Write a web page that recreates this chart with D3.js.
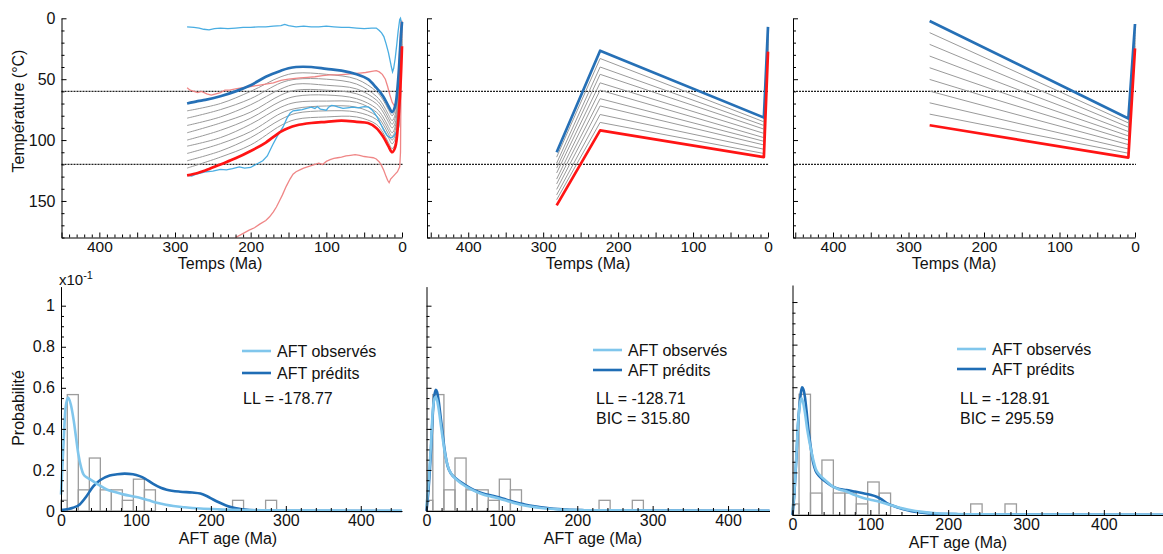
<!DOCTYPE html>
<html><head><meta charset="utf-8">
<script src="https://cdn.jsdelivr.net/npm/d3@7"></script>
<style>body{margin:0;background:#fff}svg{display:block}</style>
</head><body><svg id="c" width="1163" height="554"></svg>
<script>
// ---------------- DATA ----------------
// Panel 1 (top-left): thick envelope paths (time Ma -> temperature °C)
const p1Times = [284, 270, 260, 240, 220, 200, 180, 160, 150, 140, 120, 100, 80, 60, 45, 34, 25, 18, 13, 9, 5, 2, 0];
const p1Blue  = [70, 68, 67, 64, 60, 55, 48, 43, 41, 40, 40, 41.5, 43, 46, 50, 57, 64, 72, 77, 72, 50, 20, 3];
const p1Red   = [129, 127, 125, 120, 115, 109, 102, 93, 90, 88, 86, 85, 84, 85, 86, 90, 97, 105, 110, 106, 85, 55, 23];
const p1GreyTimes = [284, 240, 200, 160, 140, 100, 60, 34, 25, 18, 13, 9, 5, 2, 0];
const p1Greys = [
  [76, 70, 60, 48, 45, 46, 50, 60, 67, 75, 80, 75, 54, 24, 5],
  [82, 75, 66, 53, 50, 50, 54, 64, 71, 79, 84, 79, 57, 27, 7],
  [88, 81, 71, 58, 54, 55, 58, 67, 74, 82, 87, 82, 61, 31, 9],
  [94, 86, 77, 63, 59, 59, 62, 70, 77, 85, 90, 86, 64, 34, 11],
  [100, 92, 82, 68, 64, 63, 66, 74, 81, 89, 94, 89, 68, 38, 13],
  [105, 98, 87, 73, 69, 68, 69, 77, 84, 92, 97, 92, 71, 41, 15],
  [111, 103, 93, 78, 74, 72, 73, 80, 87, 95, 100, 96, 75, 45, 17],
  [117, 109, 98, 83, 78, 76, 77, 83, 90, 98, 103, 99, 78, 48, 19],
  [123, 114, 104, 88, 83, 81, 81, 87, 94, 102, 107, 103, 82, 52, 21]
];
// Panel 1 thin bounds [Ma, °C]
const p1CyanUpper = [[284,7],[275,7.5],[268,8],[262,9],[255,9.5],[248,8.5],[240,8],[230,8.5],[220,8],[210,7.5],[200,7.5],[190,7],[180,7],[170,6.5],[160,6],[155,5],[150,6],[140,7],[130,6.5],[120,7],[110,7],[100,6.5],[90,7],[80,7.5],[70,7.5],[60,8],[50,8.5],[40,8],[34,8],[30,10],[27,12],[24,15],[21,21],[18,28],[16,34],[14,40],[12.5,44],[11,41],[9,33],[7,22],[5,10],[3,1],[2,0],[1,3],[0,4]];
const p1CyanLower = [[284,129],[278,129.5],[272,128],[265,127],[259,126],[250,125.5],[240,124],[232,124.5],[224,123.5],[215,122],[208,123],[200,122.5],[196,121],[190,119],[184,117],[178,113],[171,104],[165,97],[160,92],[157,89],[152,82],[148,78],[144,76],[138,75.5],[132,75],[126,74],[120,73],[115,74],[112,72.5],[108,74.5],[104,75],[100,75.5],[97,73],[93,71.5],[89,72],[84,73],[78,74],[72,73.5],[65,73],[58,73.5],[50,72.5],[44,73],[40,75],[36,78],[32,82],[28,87],[24,92],[20,96],[16,98],[13,98],[10,96],[7,93],[5,91],[4,88],[3,70],[2,30],[1.5,8]];
const p1PinkUpper = [[284,57],[280,59],[275,60],[270,61],[265,60],[258,62],[252,63],[246,62],[240,61],[234,59],[228,59],[220,58],[210,57],[200,56],[190,55],[180,54],[170,53],[160,51],[150,50],[144,49.5],[135,49],[125,48.5],[115,48],[105,47],[95,46.5],[85,46.5],[75,46],[65,45.5],[56,45],[48,44.5],[40,43.5],[34,43],[30,44],[26,46],[22,50],[19,56],[16,63],[13,69],[10,72],[8,70],[6,60],[4,40],[3,25],[2,10],[1,2]];
const p1PinkLower = [[220,180],[214,178],[208,176],[202,174],[195,172],[188,169],[180,166],[175,163],[170,159],[166,155],[162,150],[158,145],[153,138],[148,132],[144,128],[140,126],[135,124.5],[130,123],[125,122],[120,121],[115,120],[110,119],[105,120],[100,117.5],[95,116],[90,115],[85,114.5],[80,114],[74,113],[68,112.5],[62,112],[56,112.5],[50,113.5],[44,114],[38,114.5],[34,115.5],[30,118],[27,121],[24,125],[21,130],[19,133],[17,135],[15,132],[12,130],[9,128],[6,126],[3,122],[2,110],[1.5,70],[1,26],[0,2]];

// Panel 2 (top-middle)
const p2Times = [282, 224, 5.5, 0];
const p2Blue  = [110, 26.6, 81.5, 7];
const p2Red   = [153.6, 92, 114, 27.4];
const p2Greys = [
  [114, 33, 85, 9], [119, 40, 88, 11], [123, 46, 91, 13], [127, 53, 94.5, 15], [132, 59, 98, 17],
  [136, 66, 101, 19], [140.5, 72, 104, 21], [145, 79, 107.5, 23], [149, 85.5, 111, 25]
];
// Panel 3 (top-right)
const p3Times = [272, 8.8, 0];
const p3Blue  = [2.2, 82.3, 4.7];
const p3Red   = [87.8, 114.4, 24.7];
const p3Greys = [
  [11.8, 85.9, 7], [21.4, 89.4, 9], [31, 93, 11.4], [40.6, 96.6, 13.6],
  [50.2, 100, 16], [59.8, 103.7, 18], [69.4, 107.3, 20], [78.7, 110.8, 22.5]
];

// Histogram of observed AFT ages (x10^-1)
const binLo    = [0, 8.4, 23.1, 37.8, 52.5, 67.2, 81.9, 96.6, 111.3, 228.9, 273.0];
const binHi    = [8.4, 23.1, 37.8, 52.5, 67.2, 81.9, 96.6, 111.3, 126.0, 243.6, 287.7];
const histVals = [0.052, 0.567, 0.103, 0.258, 0.103, 0.103, 0.052, 0.155, 0.103, 0.052, 0.052];

// KDE curves [age Ma, probability x10^-1]
const p4Obs  = [[0,0.08],[3,0.3],[6,0.5],[9.5,0.552],[13,0.52],[17,0.44],[20,0.36],[23,0.28],[27,0.21],[30,0.178],[35,0.162],[39,0.154],[50,0.128],[61,0.105],[72,0.092],[83,0.081],[95,0.072],[105,0.065],[117,0.052],[128,0.04],[140,0.03],[150,0.024],[165,0.018],[186,0.012],[210,0.008],[240,0.005],[280,0.003],[340,0.002],[400,0.001],[455,0.001]];
const p4Pred = [[0,0.005],[10,0.01],[16,0.016],[25,0.032],[34,0.072],[43,0.12],[52,0.15],[65,0.173],[75,0.179],[85,0.182],[96,0.179],[105,0.17],[112,0.158],[123,0.132],[133,0.113],[141,0.104],[159,0.094],[175,0.09],[186,0.085],[195,0.072],[203,0.056],[212,0.04],[221,0.026],[232,0.014],[243,0.008],[260,0.003],[290,0.001],[455,0]];
const p5Obs  = [[0,0.02],[3,0.15],[6,0.33],[8,0.47],[10,0.54],[12,0.555],[14,0.54],[16,0.5],[19,0.42],[22,0.34],[25,0.27],[29,0.21],[34,0.175],[40,0.152],[52,0.12],[64,0.097],[75,0.08],[86,0.07],[97,0.06],[108,0.048],[119,0.036],[130,0.027],[141,0.02],[152,0.015],[163,0.011],[186,0.006],[210,0.004],[250,0.003],[300,0.002],[455,0.001]];
const p5Pred = [[0,0],[3,0.12],[6,0.3],[8,0.45],[10,0.55],[12.4,0.59],[14,0.58],[16,0.54],[19,0.45],[21,0.39],[24,0.3],[28,0.22],[33,0.18],[39,0.158],[52,0.125],[64,0.1],[75,0.085],[86,0.075],[97,0.066],[108,0.053],[119,0.041],[130,0.032],[141,0.024],[152,0.018],[163,0.013],[175,0.009],[186,0.0065],[210,0.004],[230,0.003],[300,0.002],[455,0.001]];
const p6Obs  = [[0,0.02],[2,0.09],[5,0.28],[7,0.42],[9.5,0.52],[11.6,0.548],[13.5,0.53],[16,0.48],[19,0.4],[22.5,0.33],[26.6,0.26],[30,0.215],[35,0.188],[43,0.16],[52,0.133],[60,0.12],[69.5,0.11],[80,0.094],[91,0.08],[100,0.072],[108,0.066],[121,0.052],[130,0.042],[142.5,0.03],[153,0.022],[164,0.0157],[185,0.008],[210,0.005],[250,0.003],[300,0.002],[476,0.001]];
const p6Pred = [[0,0],[2,0.08],[5,0.27],[7,0.42],[9.4,0.53],[12.4,0.6],[14,0.59],[15.9,0.556],[18,0.49],[20,0.415],[23,0.33],[26.6,0.245],[30,0.205],[35,0.18],[43,0.155],[52,0.133],[60,0.122],[69.5,0.117],[80,0.11],[91,0.102],[100,0.095],[108,0.086],[115,0.072],[121,0.056],[130,0.042],[142.5,0.027],[153,0.018],[164,0.0125],[185,0.006],[210,0.004],[228,0.003],[300,0.002],[476,0.001]];

const legendLabels = ["AFT observés", "AFT prédits"];
const statsLL  = ["LL = -178.77", "LL = -128.71", "LL = -128.91"];
const statsBIC = [null, "BIC = 315.80", "BIC = 295.59"];
const tempLines = [60, 120];

// ---------------- STYLE / LAYOUT ----------------
const FONT = "'Liberation Sans', Arial, Helvetica, sans-serif";
const C = {blue:"#2670b6", red:"#ff1414", grey:"#9a9a9a", cyan:"#3fa9e0", pink:"#ee7f7f",
           obs:"#80c6ec", pred:"#1f6db5", bar:"#9c9c9c"};
const svg = d3.select("#c");

function styleAxis(g, fs){
  g.attr("font-family", FONT).attr("font-size", fs || 16);
  g.selectAll("path.domain").attr("stroke", "#000").attr("stroke-width", 1);
  g.selectAll(".tick line").attr("stroke", "#000").attr("stroke-width", 1);
  g.selectAll(".tick text").attr("fill", "#111");
}
const zip = (t, v) => t.map((d, j) => [d, v[j]]);

// ---------------- TOP PANELS ----------------
const topPanels = [
  {x0:61.5, x1:402, dom:[450,0], labels:true, title:220},
  {x0:427, x1:768, dom:[455,0], labels:false, title:588},
  {x0:793, x1:1135, dom:[453,0], labels:false, title:954}
];
const topData = [
  {greys: p1Greys.map(g => zip(p1GreyTimes, g)), blue: zip(p1Times, p1Blue), red: zip(p1Times, p1Red),
   thin: [[p1PinkLower, C.pink], [p1PinkUpper, C.pink], [p1CyanLower, C.cyan], [p1CyanUpper, C.cyan]], smooth:true},
  {greys: p2Greys.map(g => zip(p2Times, g)), blue: zip(p2Times, p2Blue), red: zip(p2Times, p2Red), thin: [], smooth:false},
  {greys: p3Greys.map(g => zip(p3Times, g)), blue: zip(p3Times, p3Blue), red: zip(p3Times, p3Red), thin: [], smooth:false}
];

topPanels.forEach((P, i) => {
  const D = topData[i];
  const x = d3.scaleLinear().domain(P.dom).range([P.x0, P.x1]);
  const y = d3.scaleLinear().domain([0, 180]).range([18.3, 237.5]);
  const g = svg.append("g");
  const curve = D.smooth ? d3.curveCatmullRom.alpha(0.5) : d3.curveLinear;
  const ln = (c) => d3.line().x(d => x(d[0])).y(d => y(d[1])).curve(c);

  // reference temperatures
  g.selectAll("line.ref").data(tempLines).join("line")
    .attr("x1", P.x0).attr("x2", P.x1 + 1).attr("y1", d => y(d)).attr("y2", d => y(d))
    .attr("stroke", "#222").attr("stroke-width", 1.3).attr("stroke-dasharray", "2,1");

  // grey paths
  g.selectAll("path.grey").data(D.greys).join("path")
    .attr("d", ln(curve)).attr("fill", "none").attr("stroke", C.grey).attr("stroke-width", 1);
  // thin bounds
  D.thin.forEach(([arr, col]) => {
    g.append("path").attr("d", ln(d3.curveLinear)(arr)).attr("fill", "none")
      .attr("stroke", col).attr("stroke-width", 1.3).attr("stroke-opacity", 0.95);
  });
  // thick envelopes
  g.append("path").attr("d", ln(curve)(D.blue)).attr("fill", "none").attr("stroke", C.blue)
    .attr("stroke-width", 2.7).attr("stroke-linejoin", "round");
  g.append("path").attr("d", ln(curve)(D.red)).attr("fill", "none").attr("stroke", C.red)
    .attr("stroke-width", 2.7).attr("stroke-linejoin", "round");

  // axes
  const xa = g.append("g").attr("transform", `translate(0,${y(180)})`)
    .call(d3.axisBottom(x).tickValues(d3.range(0, P.dom[0] + 0.1, 10)).tickSize(-3).tickSizeOuter(0)
      .tickPadding(3).tickFormat(d => d % 100 === 0 ? d : ""));
  styleAxis(xa, 15.5);
  xa.selectAll(".tick").filter(d => d % 50 === 0).select("line").attr("y2", -5);
  const ya = g.append("g").attr("transform", `translate(${P.x0},0)`)
    .call(d3.axisLeft(y).tickValues(d3.range(0, 181, 10)).tickSize(-3).tickSizeOuter(0)
      .tickPadding(6).tickFormat(d => (P.labels && d % 50 === 0) ? d : ""));
  styleAxis(ya);
  ya.selectAll(".tick").filter(d => d % 50 === 0).select("line").attr("x2", 5);

  g.append("text").attr("x", P.title).attr("y", 269).attr("text-anchor", "middle")
    .attr("font-family", FONT).attr("font-size", 16).attr("fill", "#111").text("Temps (Ma)");
});
svg.append("text").attr("transform", "translate(24,111) rotate(-90)").attr("text-anchor", "middle")
  .attr("font-family", FONT).attr("font-size", 16).attr("fill", "#111").text("Température (°C)");

// ---------------- BOTTOM PANELS ----------------
const botPanels = [
  {x0:61, x1:402, xmax:455, y0:511, ytop:286.6, ymax:1.093, labels:true, title:228, titleY:544,
   leg:{x:242, y1:351, y2:373, sx:243, sy1:398, sy2:418}},
  {x0:426.5, x1:769.5, xmax:455, y0:511, ytop:286.6, ymax:1.093, labels:false, title:593, titleY:544,
   leg:{x:593, y1:350, y2:370, sx:596, sy1:398, sy2:418}},
  {x0:792.5, x1:1163, xmax:476, y0:515, ytop:285, ymax:1.08, labels:false, title:958, titleY:548,
   leg:{x:957, y1:349, y2:369, sx:960, sy1:398, sy2:418}}
];
const botCurves = [[p4Obs, p4Pred], [p5Obs, p5Pred], [p6Obs, p6Pred]];

botPanels.forEach((P, i) => {
  const x = d3.scaleLinear().domain([0, P.xmax]).range([P.x0, P.x1]);
  const y = d3.scaleLinear().domain([0, P.ymax]).range([P.y0, P.ytop]);
  const g = svg.append("g");
  const bins = histVals.map((v, j) => ({lo: binLo[j], hi: binHi[j], v}));
  g.selectAll("rect.bar").data(bins).join("rect")
    .attr("x", d => x(d.lo)).attr("y", d => y(d.v)).attr("width", d => x(d.hi) - x(d.lo))
    .attr("height", d => y(0) - y(d.v)).attr("fill", "none").attr("stroke", C.bar).attr("stroke-width", 1.3);

  const ln = d3.line().x(d => x(d[0])).y(d => y(d[1])).curve(d3.curveMonotoneX);
  const [obs, pred] = botCurves[i];
  g.append("path").attr("d", ln(pred)).attr("fill", "none").attr("stroke", C.pred).attr("stroke-width", 2.6);
  g.append("path").attr("d", ln(obs)).attr("fill", "none").attr("stroke", C.obs).attr("stroke-width", 2.6);

  const xa = g.append("g").attr("transform", `translate(0,${P.y0})`)
    .call(d3.axisBottom(x).tickValues(d3.range(0, P.xmax + 0.1, 20)).tickSize(-3).tickSizeOuter(0)
      .tickPadding(4).tickFormat(d => d % 100 === 0 ? d : ""));
  styleAxis(xa);
  xa.selectAll(".tick").filter(d => d % 100 === 0).select("line").attr("y2", -5);
  const ya = g.append("g").attr("transform", `translate(${P.x0},0)`)
    .call(d3.axisLeft(y).tickValues(d3.range(0, 21).map(k => k * 0.05).filter(v => v <= P.ymax)).tickSize(-3)
      .tickSizeOuter(0).tickPadding(6)
      .tickFormat(d => { const k = Math.round(d * 100); return (P.labels && k % 20 === 0) ? d3.format("~g")(k / 100) : ""; }));
  styleAxis(ya);
  ya.selectAll(".tick").filter(d => Math.round(d * 100) % 20 === 0).select("line").attr("x2", 5);

  g.append("text").attr("x", P.title).attr("y", P.titleY).attr("text-anchor", "middle")
    .attr("font-family", FONT).attr("font-size", 16).attr("fill", "#111").text("AFT age (Ma)");

  // legend
  const L = P.leg;
  [[C.obs, L.y1], [C.pred, L.y2]].forEach(([col, yy], k) => {
    g.append("line").attr("x1", L.x).attr("x2", L.x + 29).attr("y1", yy).attr("y2", yy)
      .attr("stroke", col).attr("stroke-width", 2.6);
    g.append("text").attr("x", L.x + 35).attr("y", yy).attr("dy", "0.35em")
      .attr("font-family", FONT).attr("font-size", 16).attr("fill", "#111").text(legendLabels[k]);
  });
  g.append("text").attr("x", L.sx).attr("y", L.sy1).attr("dy", "0.35em")
    .attr("font-family", FONT).attr("font-size", 16).attr("fill", "#111").text(statsLL[i]);
  if (statsBIC[i]) g.append("text").attr("x", L.sx).attr("y", L.sy2).attr("dy", "0.35em")
    .attr("font-family", FONT).attr("font-size", 16).attr("fill", "#111").text(statsBIC[i]);
});
svg.append("text").attr("transform", "translate(24,408) rotate(-90)").attr("text-anchor", "middle")
  .attr("font-family", FONT).attr("font-size", 16).attr("fill", "#111").text("Probabilité");
const xt = svg.append("text").attr("x", 59).attr("y", 285).attr("font-family", FONT).attr("font-size", 15).attr("fill", "#111");
xt.append("tspan").text("x10");
xt.append("tspan").attr("dy", -6).attr("font-size", 11).text("-1");
</script></body></html>
